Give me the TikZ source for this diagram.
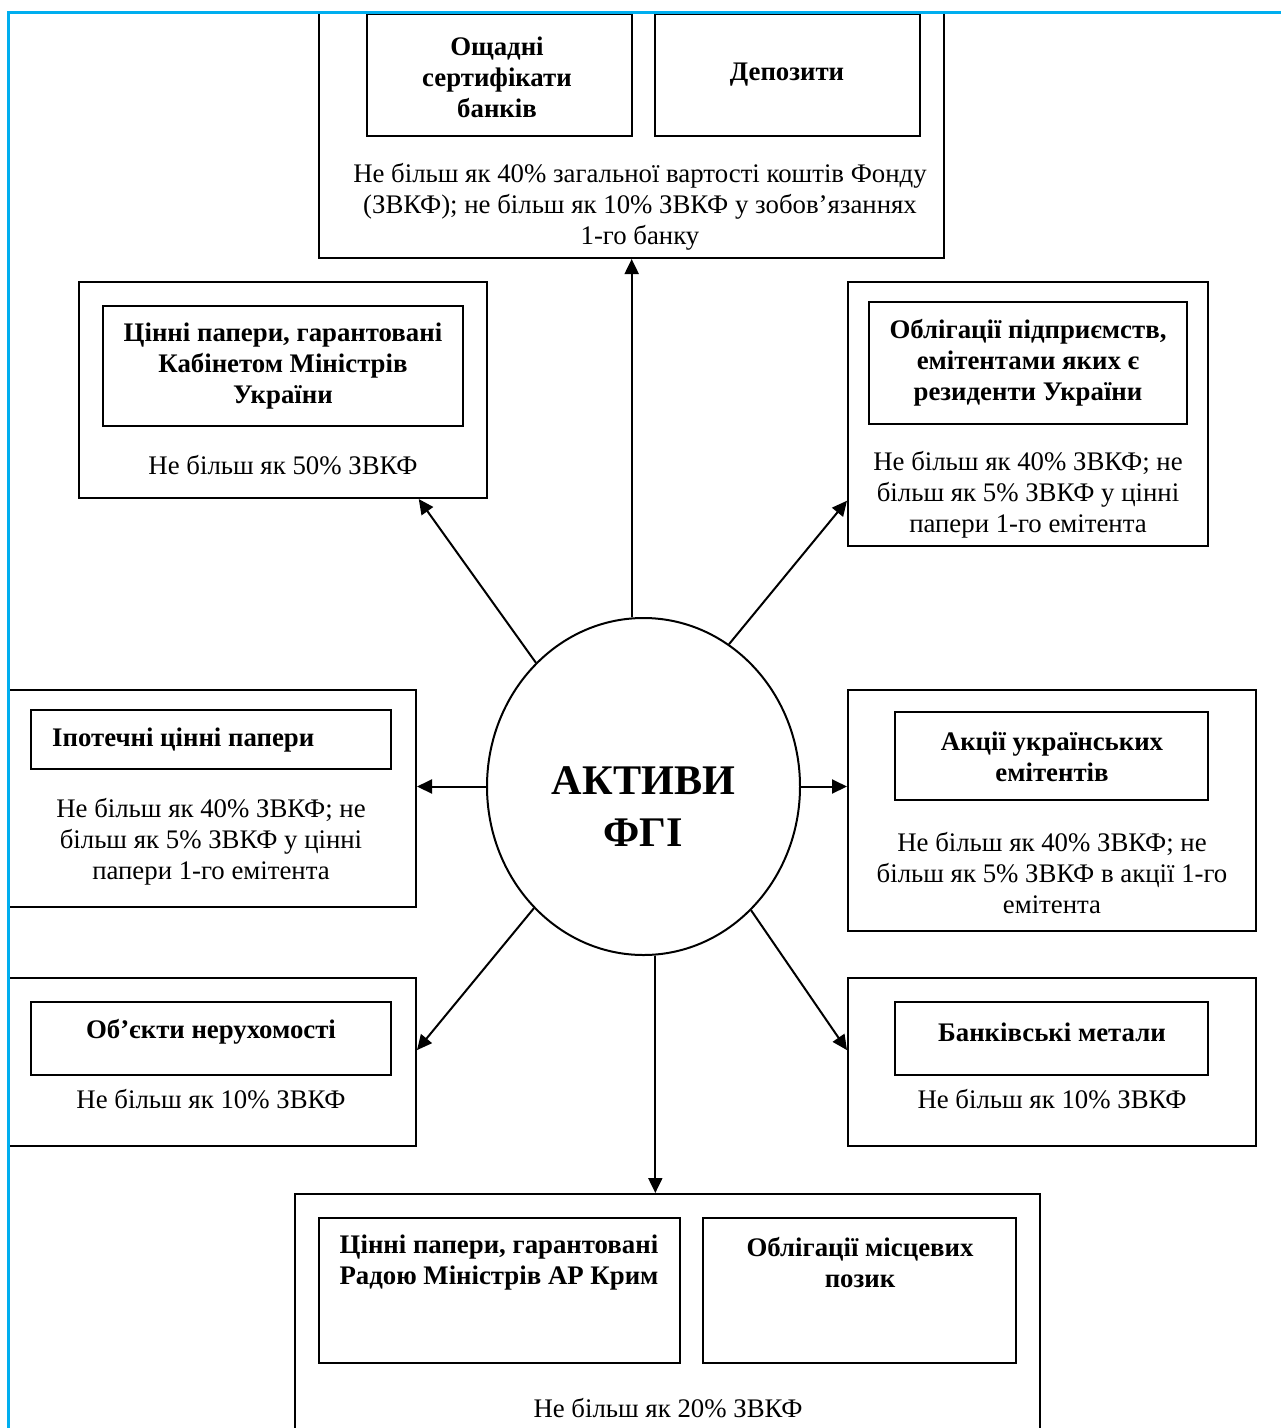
\documentclass[tikz,border=0pt]{standalone}
\usepackage{fontspec}
\setmainfont{Liberation Serif}
\usetikzlibrary{calc,arrows.meta,shapes.geometric,fit}
\definecolor{frame}{RGB}{0,174,239}
\begin{document}
\begin{tikzpicture}[x=1pt,y=-1pt,
  box/.style={draw,line width=2pt,inner sep=0pt},
  txt/.style={inner sep=0pt,align=center,font=\fontsize{26.8}{31}\selectfont},
  btxt/.style={inner sep=0pt,align=center,font=\fontsize{26.8}{31}\selectfont\bfseries},
  ttl/.style={inner sep=0pt,align=center,font=\fontsize{42.2}{52}\selectfont\bfseries},
  arr/.style={-{Triangle[length=15pt,width=14pt]},line width=2pt}]
\useasboundingbox (0,0) rectangle (1281,1428);
\begin{scope}
\clip (9,13) rectangle (1281,1428);
% outer boxes
\node[box,fit={(319,-10) (944,258)}] (top) {};
\node[box,fit={(79,282) (487,498)}] (tl) {};
\node[box,fit={(848,282) (1208,546)}] (tr) {};
\node[box,fit={(-5,690) (416,907)}] (lm) {};
\node[box,fit={(848,690) (1256,931)}] (rm) {};
\node[box,fit={(-5,978) (416,1146)}] (lb) {};
\node[box,fit={(848,978) (1256,1146)}] (rb) {};
\node[box,fit={(295,1194) (1040,1440)}] (bot) {};
% inner boxes
\node[box,fit={(367,14) (632,136)}] (i1) {};
\node[box,fit={(655,14) (920,136)}] (i2) {};
\node[box,fit={(103,306) (463,426)}] (itl) {};
\node[box,fit={(869,302) (1187,424)}] (itr) {};
\node[box,fit={(31,710) (391,769)}] (ilm) {};
\node[box,fit={(895,712) (1208,800)}] (irm) {};
\node[box,fit={(31,1002) (391,1075)}] (ilb) {};
\node[box,fit={(895,1002) (1208,1075)}] (irb) {};
\node[box,fit={(319,1218) (680,1363)}] (ib1) {};
\node[box,fit={(703,1218) (1016,1363)}] (ib2) {};
% texts
\node[btxt] (t-i1) at (497,77) {Ощадні\\сертифікати\\банків};
\node[btxt] (t-i2) at (787,75) {Депозити};
\node[txt] (t-top) at (640,207) {Не більш як 40\% загальної вартості коштів Фонду\\(ЗВКФ); не більш як 10\% ЗВКФ у зобов’язаннях\\1-го банку};
\node[btxt] (t-itl) at (283,366) {Цінні папери, гарантовані\\Кабінетом Міністрів\\України};
\node[txt] (t-tl) at (283,465) {Не більш як 50\% ЗВКФ};
\node[btxt] (t-itr) at (1028,363) {Облігації підприємств,\\емітентами яких є\\резиденти України};
\node[txt] (t-tr) at (1028,495) {Не більш як 40\% ЗВКФ; не\\більш як 5\% ЗВКФ у цінні\\папери 1-го емітента};
\node[btxt,anchor=west] (t-ilm) at (52,740) {Іпотечні цінні папери};
\node[txt] (t-lm) at (211,842) {Не більш як 40\% ЗВКФ; не\\більш як 5\% ЗВКФ у цінні\\папери 1-го емітента};
\node[btxt] (t-irm) at (1052,757) {Акції українських\\емітентів};
\node[txt] (t-rm) at (1052,873) {Не більш як 40\% ЗВКФ; не\\більш як 5\% ЗВКФ в акції 1-го\\емітента};
\node[btxt] (t-ilb) at (211,1032) {Об’єкти нерухомості};
\node[txt] (t-lb) at (211,1099) {Не більш як 10\% ЗВКФ};
\node[btxt] (t-irb) at (1052,1032) {Банківські метали};
\node[txt] (t-rb) at (1052,1099) {Не більш як 10\% ЗВКФ};
\node[btxt] (t-ib1) at (499,1263) {Цінні папери, гарантовані\\Радою Міністрів АР Крим};
\node[btxt] (t-ib2) at (860,1263) {Облігації місцевих\\позик};
\node[txt] (t-bot) at (668,1408) {Не більш як 20\% ЗВКФ};
% centre
\node[draw,ellipse,line width=2pt,minimum width=313pt,minimum height=337pt,inner sep=0pt] (circ) at (643.5,786.5) {};
\node[ttl] (t-circ) at (643.5,807) {АКТИВИ\\ФГІ};
% arrows
\draw[arr] (circ.94) -- (circ.94 |- top.south);
\draw[arr] (circ.274) -- (circ.274 |- bot.north);
\draw[arr] (circ.131.8) -- ($(tl.south west)!0.831!(tl.south east)$);
\draw[arr] (circ.59.8) -- ($(tr.north west)!0.826!(tr.south west)$);
\draw[arr] (circ.west) -- (circ.west -| lm.east);
\draw[arr] (circ.east) -- (circ.east -| rm.west);
\draw[arr] (circ.228.5) -- ($(lb.north east)!0.43!(lb.south east)$);
\draw[arr] (circ.311.8) -- ($(rb.north west)!0.43!(rb.south west)$);
\end{scope}
\draw[line width=3pt,frame] (8,1440) -- (8,12) -- (1290,12);
\end{tikzpicture}
\end{document}
